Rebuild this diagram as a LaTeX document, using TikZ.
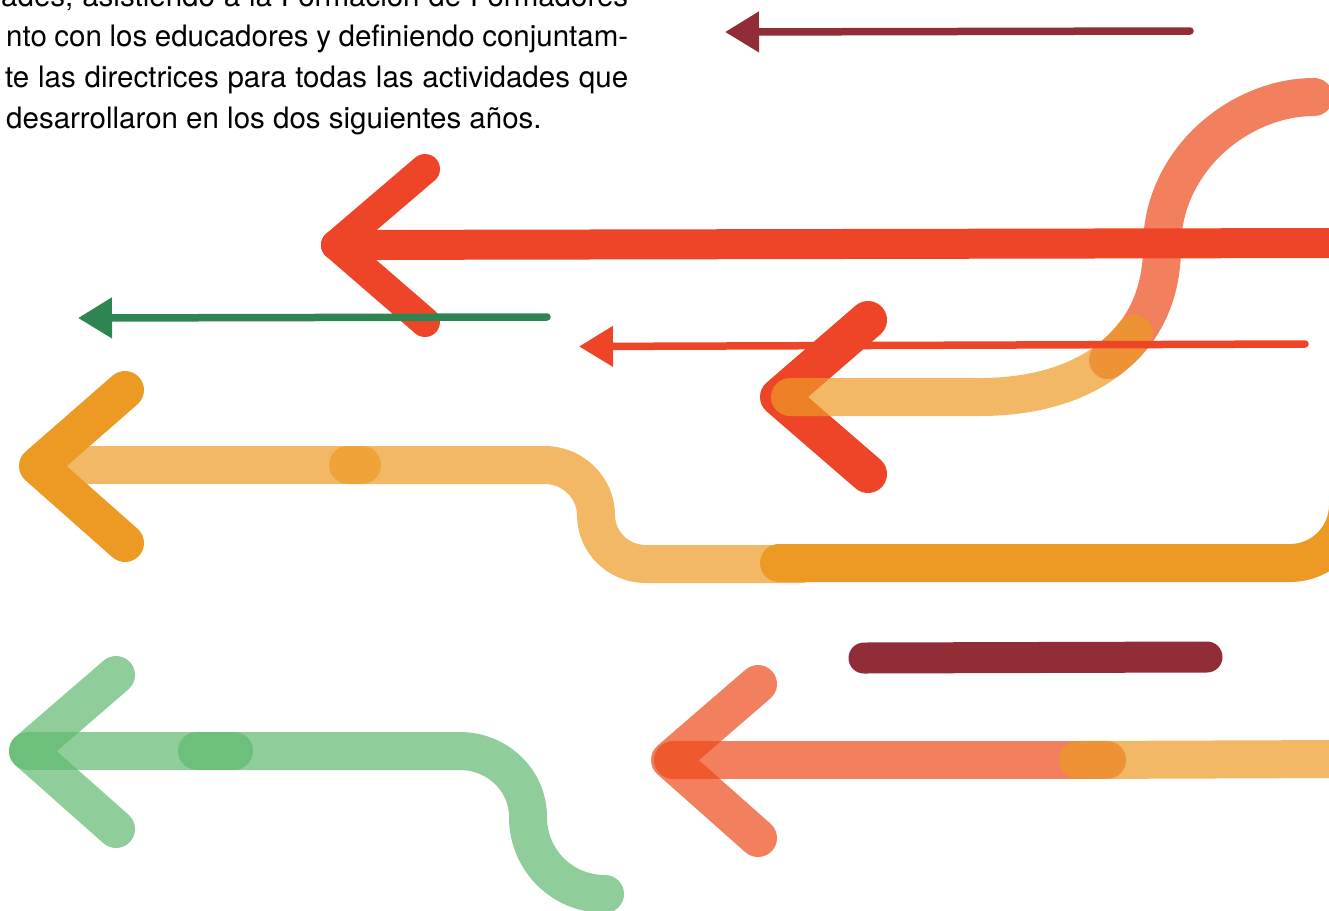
\documentclass[tikz,border=0pt]{standalone}
\usepackage{fontspec}
\setmainfont{TeX Gyre Heros}
\usetikzlibrary{arrows.meta}
\definecolor{arrowred}{RGB}{238, 69, 41}
\definecolor{salmonbase}{RGB}{236, 72, 25}
\definecolor{arroworange}{RGB}{237, 154, 37}
\definecolor{arrowgreen}{RGB}{95, 185, 111}
\definecolor{pointergreen}{RGB}{46, 133, 82}
\definecolor{wine}{RGB}{144, 45, 54}
\tikzstyle{band} = [line width=38pt, line cap=round, line join=round]
\tikzstyle{faded} = [opacity=0.7]
\tikzstyle{pointer} = [line width=7.5pt, line cap=round, -{Triangle[length=34pt, width=39pt]}]
\tikzstyle{textline} = [inner sep=0pt, anchor=base west, font=\fontsize{29.5}{41}\selectfont]

\begin{document}
\begin{tikzpicture}[x=1pt, y=-1pt]
      \path[use as bounding box, clip] (0,0) rectangle (1329,910);

      \node[textline] (line1) at (1,6) {\makebox[627pt][s]{ades, asistiendo a la Formación de Formadores}};
      \node[textline] (line2) at (6,46.5) {\makebox[622pt][s]{nto con los educadores y definiendo conjuntam-}};
      \node[textline] (line3) at (5,87.5) {\makebox[623pt][s]{te las directrices para todas las actividades que}};
      \node[textline] (line4) at (6,128.5) {desarrollaron en los dos siguientes años.};

      \coordinate (wineend) at (1190,31);
      \coordinate (winetip) at (725,32);
      \draw[pointer, wine] (wineend) -- (winetip);

      \coordinate (sstart) at (1314,97);
      \coordinate (smid) at (1162,247);
      \coordinate (send) at (1108,360);
      \draw[band, salmonbase, faded] (sstart) .. controls (1240,97) and (1162,160) .. (smid)
            .. controls (1162,298) and (1141,336) .. (send);

      \coordinate (bigtop) at (425,169);
      \coordinate (bigtip) at (336,245);
      \coordinate (bigbot) at (425,322);
      \coordinate (bigend) at (1345,243);
      \draw[band, line width=30pt, arrowred] (bigtop) -- (bigtip) -- (bigbot);
      \draw[band, line width=30pt, arrowred] (bigtip) -- (bigend);

      \coordinate (midtop) at (868,320);
      \coordinate (midtip) at (779,397);
      \coordinate (midbot) at (868,474);
      \draw[band, arrowred] (midtop) -- (midtip) -- (midbot);

      \coordinate (ostart) at (1134,334);
      \coordinate (obend) at (980,397);
      \coordinate (oend) at (790,397);
      \draw[band, arroworange, faded] (ostart) .. controls (1102,377) and (1045,397) .. (obend) -- (oend);

      \coordinate (redend) at (1305,344);
      \coordinate (redtip) at (579,346.5);
      \draw[pointer, arrowred] (redend) -- (redtip);

      \coordinate (greenend) at (547,317);
      \coordinate (greentip) at (78,318);
      \draw[pointer, pointergreen] (greenend) -- (greentip);

      \coordinate (ltop) at (125,390);
      \coordinate (ltip) at (38,466);
      \coordinate (lbot) at (125,543);
      \draw[band, arroworange] (ltop) -- (ltip) -- (lbot);
      \coordinate (la) at (45,465);
      \coordinate (lb) at (362,465);
      \draw[band, arroworange, faded] (la) -- (lb);
      \coordinate (lc) at (348,465);
      \coordinate (ld) at (545,465);
      \coordinate (le) at (596,515);
      \coordinate (lf) at (646,564);
      \coordinate (lg) at (801,564);
      \draw[band, arroworange, faded] (lc) -- (ld) .. controls (573,465) and (596,488) .. (le)
            .. controls (596,542) and (618,564) .. (lf) -- (lg);
      \coordinate (da) at (779,563);
      \coordinate (db) at (1290,563);
      \coordinate (dc) at (1348,505);
      \coordinate (dd) at (1348,460);
      \draw[band, arroworange] (da) -- (db) .. controls (1322,563) and (1348,537) .. (dc) -- (dd);

      \coordinate (barleft) at (864,658);
      \coordinate (barright) at (1207,657);
      \draw[band, line width=31pt, wine] (barleft) -- (barright);

      \coordinate (stop) at (758,684);
      \coordinate (stip) at (670,760);
      \coordinate (sbot) at (758,838);
      \draw[band, salmonbase, faded] (stop) -- (stip) -- (sbot);
      \coordinate (sa) at (673,760);
      \coordinate (sb) at (1107,760);
      \draw[band, salmonbase, faded] (sa) -- (sb);
      \coordinate (sc) at (1078,760);
      \coordinate (sd) at (1345,759);
      \draw[band, arroworange, faded] (sc) -- (sd);

      \coordinate (gtop) at (116,675);
      \coordinate (gtip) at (28,751);
      \coordinate (gbot) at (116,829);
      \draw[band, arrowgreen, faded] (gtop) -- (gtip) -- (gbot);
      \coordinate (ga) at (28,751);
      \coordinate (gb) at (234,751);
      \draw[band, arrowgreen, faded] (ga) -- (gb);
      \coordinate (gc) at (197,751);
      \coordinate (gd) at (460,751);
      \coordinate (ge) at (528,817);
      \coordinate (gf) at (605,894);
      \draw[band, arrowgreen, faded] (gc) -- (gd) .. controls (497,751) and (528,780) .. (ge)
            .. controls (528,860) and (562,894) .. (gf);
    \end{tikzpicture}
\end{document}
